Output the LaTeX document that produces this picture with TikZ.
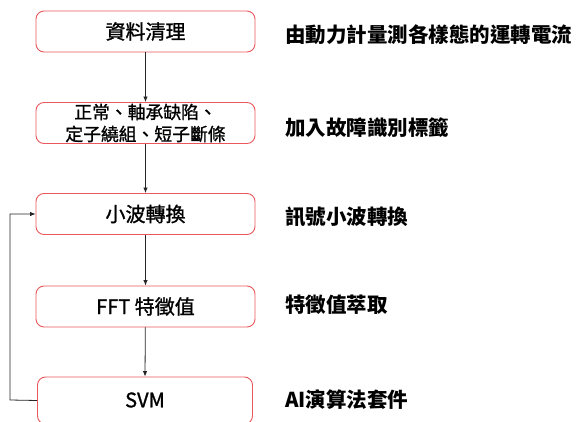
\documentclass[tikz,border=0pt]{standalone}
\usepackage{fontspec}
\setmainfont{Noto Sans CJK TC}
\newfontfamily\boxfont{Noto Sans CJK TC}[FakeBold=1.2]
\usetikzlibrary{arrows.meta}
\definecolor{boxred}{HTML}{E8585C}
\tikzset{
  stepbox/.style={draw=boxred, line width=0.9pt, rounded corners=8pt, minimum width=219pt, minimum height=41pt, inner sep=0pt, font=\boxfont\fontsize{20}{22}\selectfont, align=center},
  desc/.style={anchor=west, inner sep=0pt, font=\fontsize{20.5}{22}\selectfont\bfseries},
  conn/.style={draw=black!85, line width=0.8pt, -{Latex[length=5.5pt,width=4.5pt]}}
}
\begin{document}
\begin{tikzpicture}[x=1pt,y=-1pt]
\useasboundingbox (0,0) rectangle (576,422);
\clip (0,0) rectangle (576,422);
\node[stepbox] (b1) at (145.5,31.5) {資料清理};
\node[stepbox, font=\boxfont\fontsize{17.8}{22}\selectfont] (b2) at (145.5,123) {正常、軸承缺陷、\\定子繞組、短子斷條};
\node[stepbox] (b3) at (145.5,214) {小波轉換};
\node[stepbox] (b4) at (145.5,306.5) {FFT 特徵值};
\node[stepbox, minimum width=215pt, minimum height=47pt] (b5) at (145,400.5) {};
\node[font=\boxfont\fontsize{20}{22}\selectfont] (b5t) at (145,400) {SVM};
\node[desc] (t1) at (285,35) {由動力計量測各樣態的運轉電流};
\node[desc] (t2) at (285,128) {加入故障識別標籤};
\node[desc] (t3) at (285,217) {訊號小波轉換};
\node[desc] (t4) at (285,305) {特徵值萃取};
\node[desc] (t5) at (285,400) {AI演算法套件};
\draw[conn] (b1) -- (b2);
\draw[conn] (b2) -- (b3);
\draw[conn] (b3) -- (b4);
\draw[conn] (b4) -- (b5.north);
\coordinate (c1) at (10,400);
\coordinate (c2) at (10,214);
\draw[conn] (b5.west) -- (c1) -- (c2) -- (b3.west);
\end{tikzpicture}
\end{document}
